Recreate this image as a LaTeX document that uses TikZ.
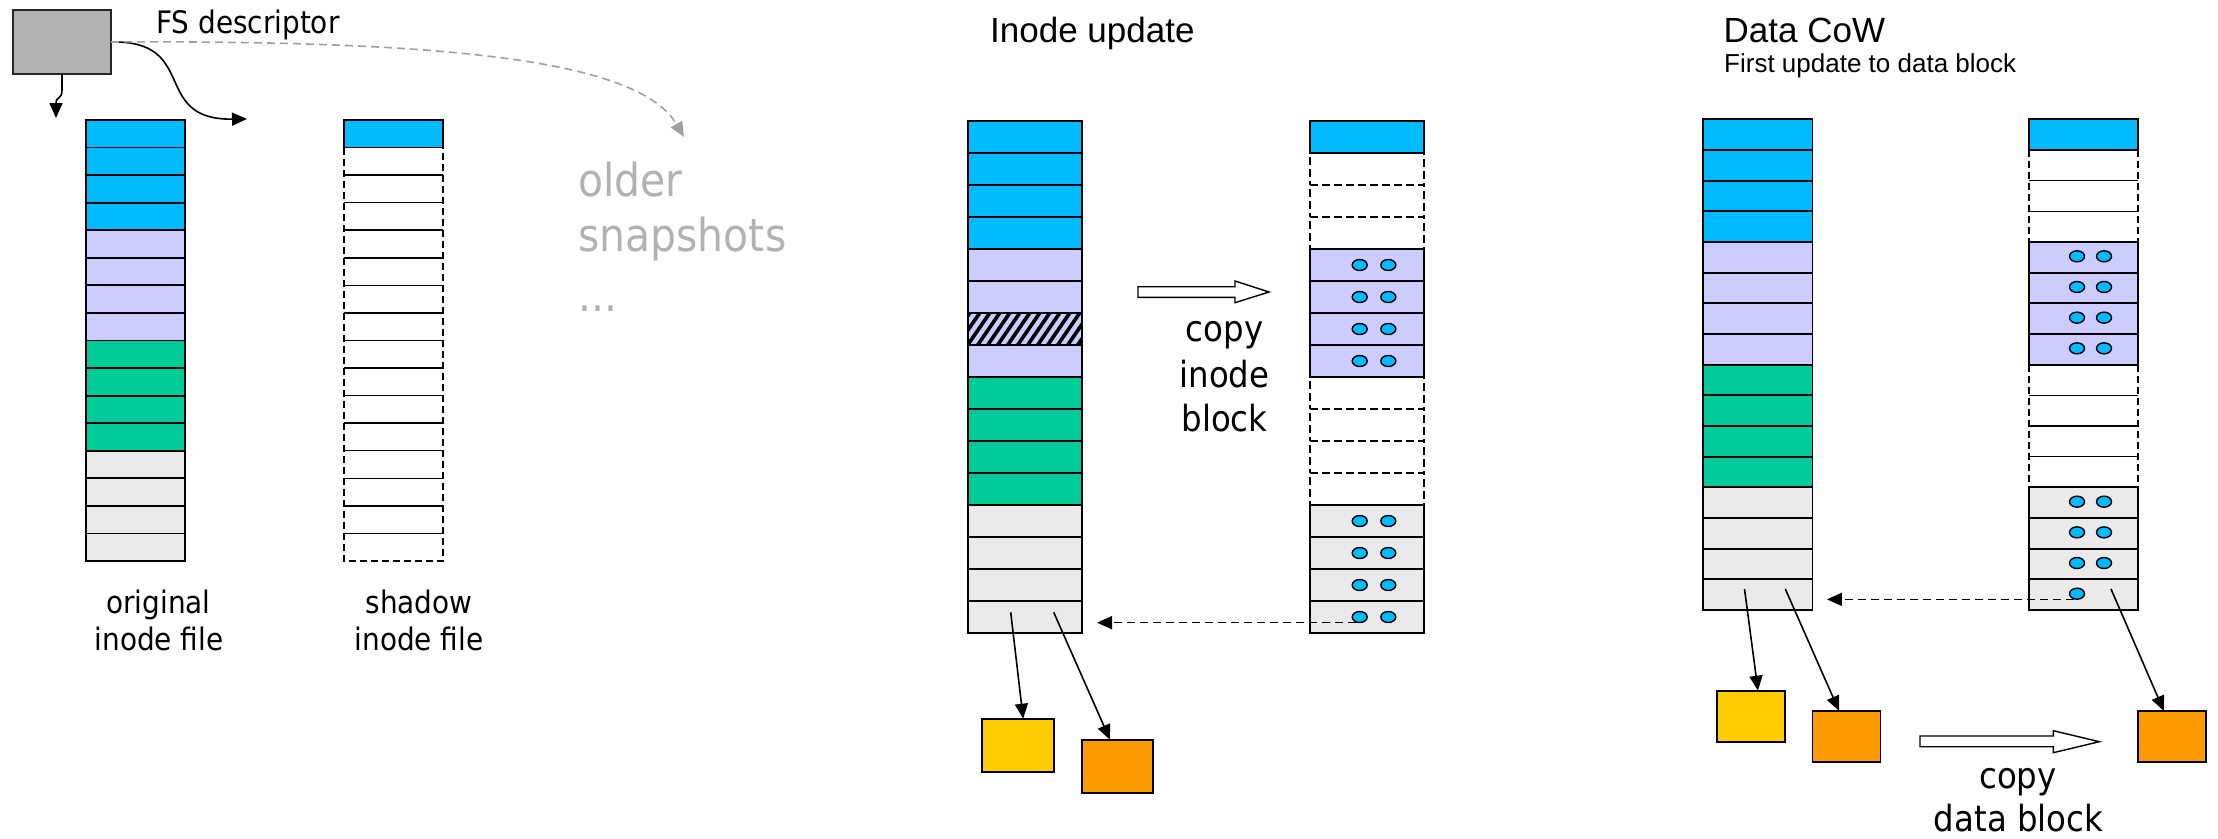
\documentclass[tikz,border=0pt]{standalone}
\usepackage{fontspec}
\setmainfont{Liberation Sans}
\newfontfamily\vfont[FakeStretch=0.9]{DejaVu Sans}
\usetikzlibrary{arrows.meta,shapes.geometric,calc}

\definecolor{cblue}{HTML}{00BBFF}
\definecolor{clav}{HTML}{CCCCFF}
\definecolor{cgreen}{HTML}{00CC99}
\definecolor{cgray}{HTML}{EAEAEA}
\definecolor{cfs}{HTML}{B2B2B2}
\definecolor{cyel}{HTML}{FFCC00}
\definecolor{corg}{HTML}{FF9900}
\definecolor{cfade}{HTML}{B2B2B2}
\definecolor{cdash}{HTML}{A0A0A0}

\begin{document}
\begin{tikzpicture}[x=1pt,y=-1pt,
  cell/.style={draw=black, line width=1.8pt, inner sep=0pt, outer sep=0pt, anchor=north west},
  dot/.style={ellipse, draw=black, line width=1.4pt, fill=cblue, minimum width=15pt, minimum height=11pt, inner sep=0pt},
  arr/.style={line width=1.6pt, -{Triangle[length=15pt,width=13pt]}},
  darr/.style={arr, dash pattern=on 8pt off 5pt},
  lbl/.style={inner sep=0pt, anchor=base, font=\vfont\fontsize{31}{37}\selectfont},
  big/.style={inner sep=0pt, anchor=base, font=\vfont\fontsize{36}{43}\selectfont},
  title/.style={inner sep=0pt, anchor=base west, font=\fontsize{35}{42}\selectfont},
  hollow/.style={draw=black, line width=1.4pt, fill=white, line join=miter}
]
\path[use as bounding box] (0,0) rectangle (2218,838);

% ---------- snapshot overview ----------
\node[cell, fill=cfs, draw=black!85, minimum width=98pt, minimum height=64pt] (fs) at (13,10) {};
\node[lbl, anchor=base west] (fsl) at (156,33) {FS descriptor};

\foreach \c [count=\i] in {cblue,cblue,cblue,cblue,clav,clav,clav,clav,cgreen,cgreen,cgreen,cgreen,cgray,cgray,cgray,cgray}
  \node[cell, fill=\c, minimum width=98.7pt, minimum height=27.56pt] (oa\i) at (86.3,{120+(\i-1)*27.56}) {};

\node[cell, fill=cblue, minimum width=98.6pt, minimum height=27.56pt] (sa1) at (344,120) {};
\foreach \i in {2,...,16}
  \node[cell, draw=none, minimum width=98.6pt, minimum height=27.56pt] (sa\i) at (344,{120+(\i-1)*27.56}) {};
\foreach \i in {2,...,15}
  \draw[line width=1.5pt] (sa\i.south west) -- (sa\i.south east);
\draw[line width=1.8pt, dash pattern=on 7pt off 4pt] (sa2.north west) -- (sa16.south west) -- (sa16.south east) -- (sa2.north east);

\node[lbl] (ol1) at (158.5,613) {original};
\node[lbl] (ol2) at (159,650) {inode file};
\node[lbl] (sl1) at (419,613) {shadow};
\node[lbl] (sl2) at (419,650) {inode file};

\node[inner sep=0pt, anchor=base west, text=cfade, font=\vfont\fontsize{45.5}{55}\selectfont] (old1) at (578,196.7) {older};
\node[inner sep=0pt, anchor=base west, text=cfade, font=\vfont\fontsize{45.5}{55}\selectfont] (old2) at (578,251.7) {snapshots};
\node[inner sep=0pt, anchor=base west, text=cfade, font=\vfont\fontsize{45.5}{55}\selectfont] (old3) at (578,311.7) {...};

\coordinate (p1a) at (56,118);
\coordinate (p1b) at (247,119);
\coordinate (p1c) at (684,137);
\draw[arr] (fs.south) -- ++(0,16) .. controls +(0,10) and (56,96) .. (p1a);
\draw[arr] (fs.east) .. controls (200,40) and (150,120) .. (p1b);
\draw[darr, color=cdash] (fs.east) .. controls (460,40) and (640,62) .. (p1c);

% ---------- inode update ----------
\node[title] (t2) at (990,42.3) {Inode update};

\foreach \c [count=\i] in {cblue,cblue,cblue,cblue,clav,clav,clav,clav,cgreen,cgreen,cgreen,cgreen,cgray,cgray,cgray,cgray}
  \node[cell, fill=\c, minimum width=114.3pt, minimum height=32pt] (ib\i) at (967.7,{121+(\i-1)*32}) {};
\begin{scope}
  \clip (ib7.south west) rectangle (ib7.north east);
  \foreach \k in {-3,...,13}
    \draw[line width=3.6pt] ({967.7+\k*10},345) -- ++(22,-32);
\end{scope}
\draw[line width=1.8pt] (ib7.south west) rectangle (ib7.north east);

\foreach \i in {2,3,4,9,10,11,12}
  \node[cell, dash pattern=on 8pt off 4pt, minimum width=114pt, minimum height=32pt] (ic\i) at (1309.7,{121+(\i-1)*32}) {};
\node[cell, fill=cblue, minimum width=114pt, minimum height=32pt] (ic1) at (1309.7,121) {};
\foreach \i in {5,...,8}
  \node[cell, fill=clav, minimum width=114pt, minimum height=32pt] (ic\i) at (1309.7,{121+(\i-1)*32}) {};
\foreach \i in {13,...,16}
  \node[cell, fill=cgray, minimum width=114pt, minimum height=32pt] (ic\i) at (1309.7,{121+(\i-1)*32}) {};
\foreach \i in {5,6,7,8,13,14,15,16} {
  \node[dot] (ica\i) at ($(ic\i.west)+(50,0)$) {};
  \node[dot] (icb\i) at ($(ic\i.west)+(78.6,0)$) {};
}

\draw[hollow] (1138,286.7) -- (1235,286.7) -- (1235,281) -- (1269,292) -- (1235,302.7) -- (1235,297.3) -- (1138,297.3) -- cycle;
\node[big] (c2a) at (1224.5,341.7) {copy};
\node[big] (c2b) at (1224.5,387) {inode};
\node[big] (c2c) at (1224.5,431.7) {block};

\coordinate (q2) at (1097,622);
\draw[darr] (ica16.240) -- (ica16.240 -| q2);

\node[cell, fill=cyel, minimum width=72pt, minimum height=53.3pt] (y2) at (982,718.7) {};
\node[cell, fill=corg, minimum width=71.3pt, minimum height=53.6pt] (o2) at (1082,739.7) {};
\coordinate (s2a) at (1010.7,612.3);
\coordinate (s2b) at (1053.7,612.3);
\draw[arr] (s2a) -- (y2.79);
\draw[arr] (s2b) -- (o2.106);

% ---------- data copy-on-write ----------
\node[title] (t3) at (1723.5,42.3) {Data CoW};
\node[inner sep=0pt, anchor=base west, font=\fontsize{26}{31}\selectfont] (t3s) at (1724,72.7) {First update to data block};

\foreach \c [count=\i] in {cblue,cblue,cblue,cblue,clav,clav,clav,clav,cgreen,cgreen,cgreen,cgreen,cgray,cgray,cgray,cgray}
  \node[cell, fill=\c, minimum width=109.1pt, minimum height=30.67pt] (da\i) at (1703.3,{119.3+(\i-1)*30.67}) {};

\foreach \i in {2,3,4,9,10,11,12}
  \node[cell, draw=none, minimum width=109pt, minimum height=30.67pt] (db\i) at (2029,{119.3+(\i-1)*30.67}) {};
\foreach \i in {2,3,9,10,11}
  \draw[line width=1.5pt] (db\i.south west) -- (db\i.south east);
\draw[line width=1.8pt, dash pattern=on 7pt off 4pt] (db2.north west) -- (db4.south west);
\draw[line width=1.8pt, dash pattern=on 7pt off 4pt] (db2.north east) -- (db4.south east);
\draw[line width=1.8pt, dash pattern=on 7pt off 4pt] (db9.north west) -- (db12.south west);
\draw[line width=1.8pt, dash pattern=on 7pt off 4pt] (db9.north east) -- (db12.south east);
\node[cell, fill=cblue, minimum width=109pt, minimum height=30.67pt] (db1) at (2029,119.3) {};
\foreach \i in {5,...,8}
  \node[cell, fill=clav, minimum width=109pt, minimum height=30.67pt] (db\i) at (2029,{119.3+(\i-1)*30.67}) {};
\foreach \i in {13,...,16}
  \node[cell, fill=cgray, minimum width=109pt, minimum height=30.67pt] (db\i) at (2029,{119.3+(\i-1)*30.67}) {};
\foreach \i in {5,6,7,8,13,14,15,16}
  \node[dot] (dba\i) at ($(db\i.west)+(48,-1)$) {};
\foreach \i in {5,6,7,8,13,14,15}
  \node[dot] (dbb\i) at ($(db\i.west)+(75,-1)$) {};

\coordinate (q3) at (1826.9,599);
\draw[darr] (dba16.240) -- (dba16.240 -| q3);

\node[cell, fill=cyel, minimum width=68.3pt, minimum height=51pt] (y3) at (1717,690.7) {};
\node[cell, fill=corg, minimum width=68pt, minimum height=51pt] (o3a) at (1812.4,711) {};
\node[cell, fill=corg, minimum width=67.9pt, minimum height=51pt] (o3b) at (2137.7,711) {};
\coordinate (s3a) at (1744.5,589);
\coordinate (s3b) at (1785.3,589);
\coordinate (s3c) at (2111,589);
\draw[arr] (s3a) -- (y3.75);
\draw[arr] (s3b) -- (o3a.106);
\draw[arr] (s3c) -- (o3b.107);

\draw[hollow] (1920,736) -- (2053.3,736) -- (2053.3,730.7) -- (2099.3,741.7) -- (2053.3,752.7) -- (2053.3,746.7) -- (1920,746.7) -- cycle;
\node[big] (c3a) at (2018,788) {copy};
\node[big] (c3b) at (2018.5,831.7) {data block};
\end{tikzpicture}
\end{document}
